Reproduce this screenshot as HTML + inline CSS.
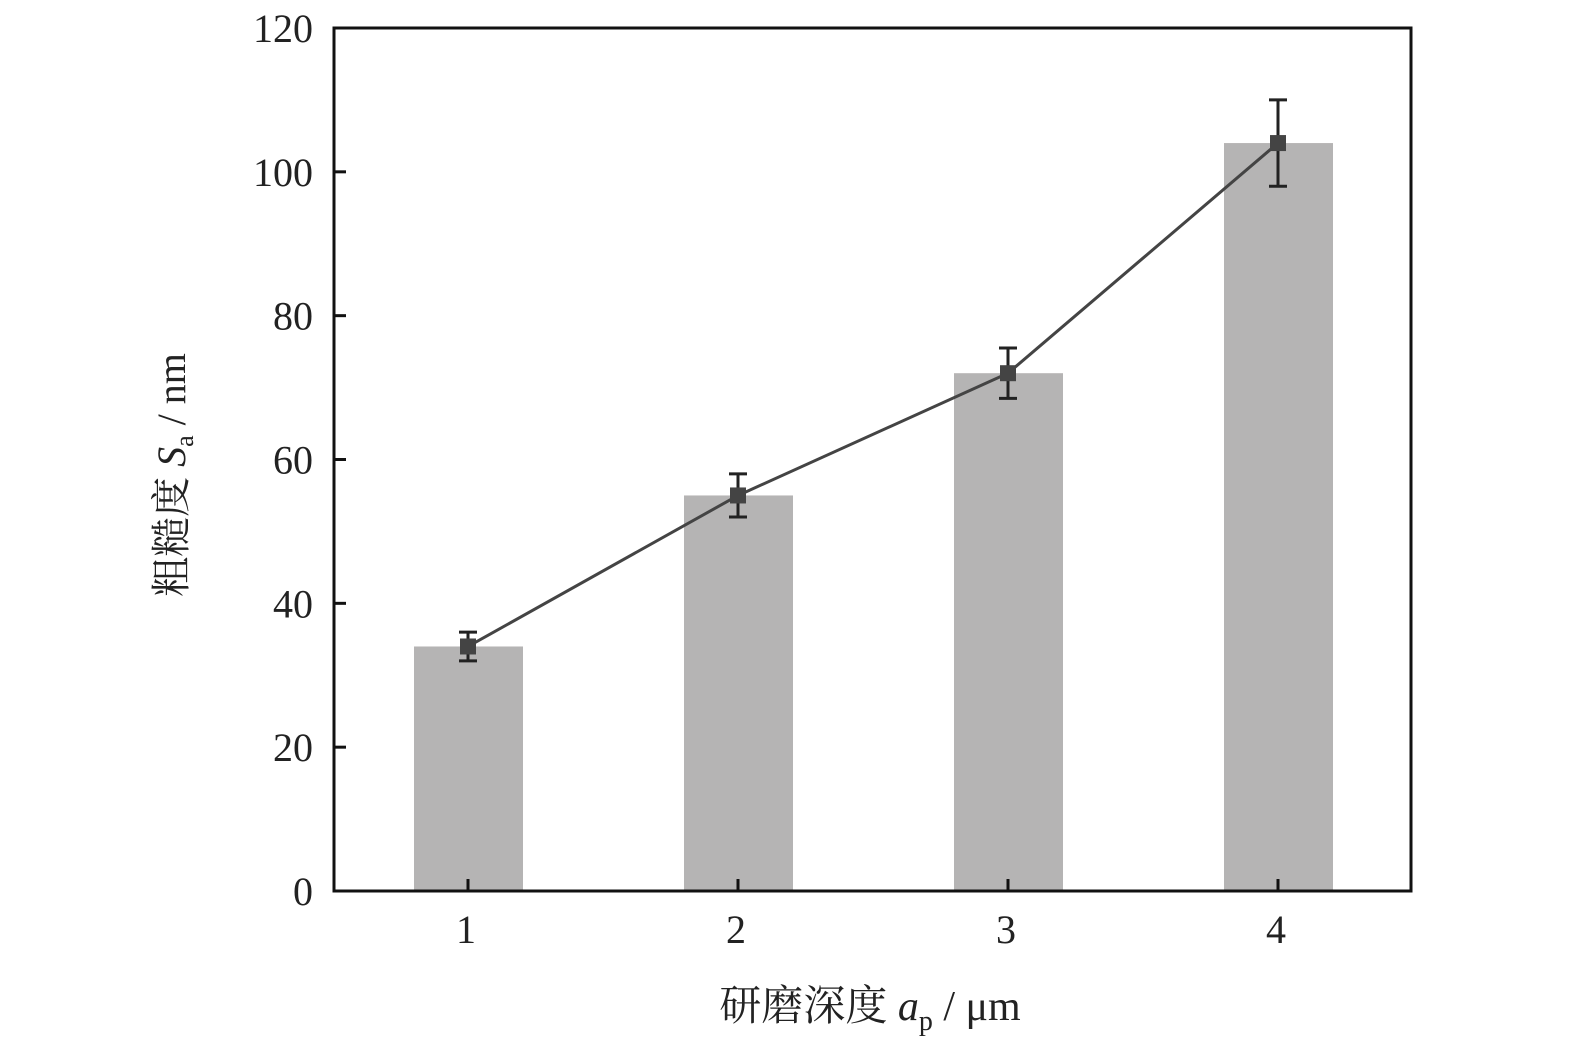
<!DOCTYPE html>
<html><head><meta charset="utf-8"><style>
html,body{margin:0;padding:0;background:#fff;}
svg{display:block;}
text{font-family:"Liberation Serif","Noto Serif CJK SC",serif;fill:#222;}
</style></head><body>
<svg id="chart" width="1575" height="1050">
<g id="bars"></g>
<g id="line"></g>
<rect x="334" y="28" width="1077" height="863" fill="none" stroke="#111" stroke-width="3"/>
<g id="axes"></g>
<text x="170" y="460" font-size="40" text-anchor="middle" transform="rotate(-90 185 460)">粗糙度 <tspan font-style="italic">S</tspan><tspan font-size="26" dy="8">a</tspan><tspan dy="-8"> / nm</tspan></text>
<text x="870" y="1020" font-size="42" text-anchor="middle">研磨深度 <tspan font-style="italic">a</tspan><tspan font-size="28" dy="10">p</tspan><tspan dy="-10"> / μm</tspan></text>
</svg>
<script>
const categories = [1, 2, 3, 4];
const barValues = [34, 55, 72, 104];
const lineValues = [34, 55, 72, 104];
const errValues = [2, 3, 3.5, 6];
const yTicks = [0, 20, 40, 60, 80, 100, 120];
const xTicks = ["1", "2", "3", "4"];

const NS = "http://www.w3.org/2000/svg";
function X(c){ return 468 + (c - 1) * 270; }
function Y(v){ return 891 - v * (863 / 120); }
function mk(tag, attrs, parent){
  const e = document.createElementNS(NS, tag);
  for (const k in attrs) e.setAttribute(k, attrs[k]);
  parent.appendChild(e);
  return e;
}
const gb = document.getElementById('bars');
const gl = document.getElementById('line');
const ga = document.getElementById('axes');

categories.forEach((c, i) => {
  const r = mk('rect', {x: X(c) - 54, y: Y(barValues[i]), width: 109, height: Y(0) - Y(barValues[i]), fill: '#b5b4b4'}, gb);
  
  
});
let pts = categories.map((c, i) => X(c) + ',' + Y(lineValues[i])).join(' ');
const pl = mk('polyline', {points: pts, fill: 'none', stroke: '#444', 'stroke-width': 3}, gl);


categories.forEach((c, i) => {
  const x = X(c), yt = Y(lineValues[i] + errValues[i]), yb = Y(lineValues[i] - errValues[i]);
  const g = mk('g', {stroke: '#222', 'stroke-width': 3}, gl);
  
  
  mk('line', {x1: x, x2: x, y1: yt, y2: yb}, g);
  mk('line', {x1: x - 9, x2: x + 9, y1: yt, y2: yt}, g);
  mk('line', {x1: x - 9, x2: x + 9, y1: yb, y2: yb}, g);
  const m = mk('rect', {x: x - 8, y: Y(lineValues[i]) - 8, width: 16, height: 16, fill: '#444', stroke: 'none'}, gl);
  
  
});
yTicks.forEach(v => {
  const y = Y(v);
  const t = mk('line', {x1: 334, x2: 346, y1: y, y2: y, stroke: '#111', 'stroke-width': 3}, ga);
  
  
  const l = mk('text', {x: 313, y: y + 14, 'font-size': 40, 'text-anchor': 'end'}, ga);
  l.textContent = v;
  
  
});
xTicks.forEach((s, i) => {
  const x = X(categories[i]);
  const t = mk('line', {x1: x, x2: x, y1: 891, y2: 879, stroke: '#111', 'stroke-width': 3}, ga);
  
  
  const l = mk('text', {x: x - 2, y: 943, 'font-size': 40, 'text-anchor': 'middle'}, ga);
  l.textContent = s;
  
  
});
</script>
</body></html>
